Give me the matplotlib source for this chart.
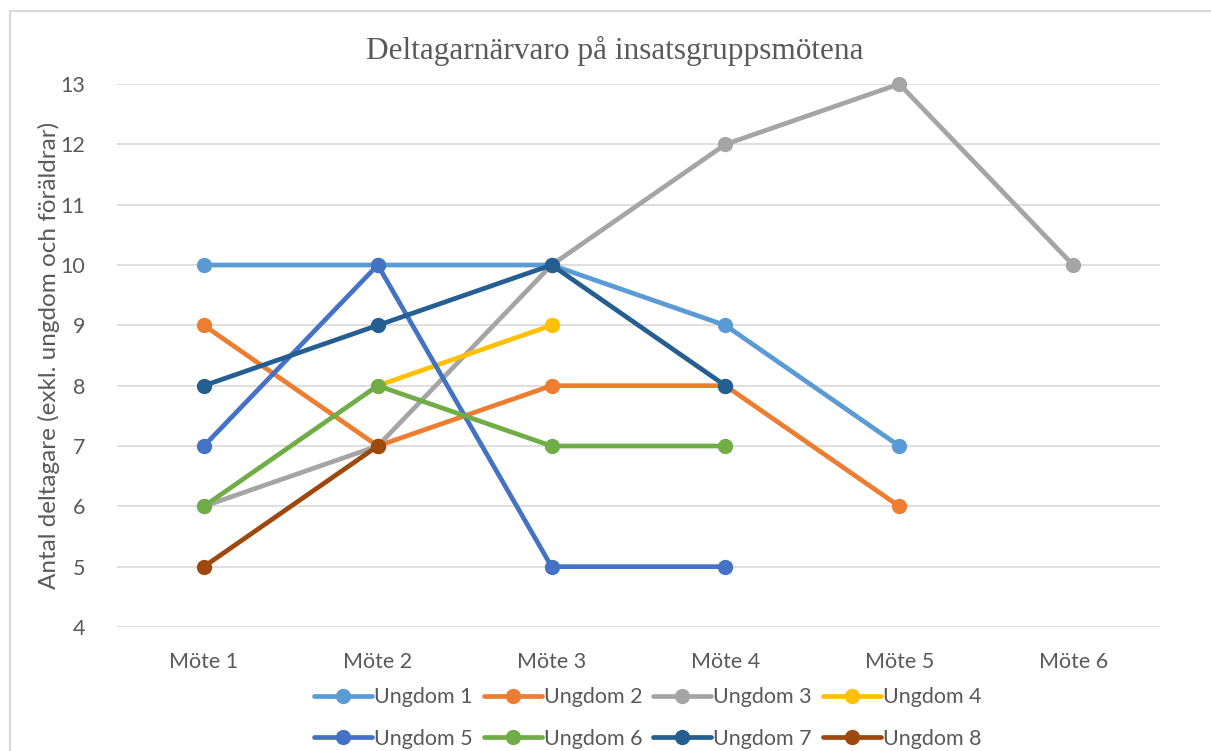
import numpy as np
import matplotlib
matplotlib.use("Agg")
from matplotlib import pyplot as plt
from matplotlib.patches import Rectangle

moten = ["Möte 1", "Möte 2", "Möte 3", "Möte 4", "Möte 5", "Möte 6"]
nan = np.nan
ungdom_1 = [10, 10, 10, 9, 7, nan]
ungdom_2 = [9, 7, 8, 8, 6, nan]
ungdom_3 = [6, 7, 10, 12, 13, 10]
ungdom_4 = [nan, 8, 9, nan, nan, nan]
ungdom_5 = [7, 10, 5, 5, nan, nan]
ungdom_6 = [6, 8, 7, 7, nan, nan]
ungdom_7 = [8, 9, 10, 8, nan, nan]
ungdom_8 = [5, 7, nan, nan, nan, nan]

series = [ungdom_1, ungdom_2, ungdom_3, ungdom_4,
          ungdom_5, ungdom_6, ungdom_7, ungdom_8]
labels = ["Ungdom %d" % i for i in range(1, 9)]
colors = ["#5B9BD5", "#ED7D31", "#A5A5A5", "#FFC000",
          "#4472C4", "#70AD47", "#255E91", "#9E480E"]

text_color = "#595959"
plt.rcParams['font.family'] = ['Lato', 'DejaVu Sans']

fig = plt.figure(figsize=(12.11, 7.51), dpi=100)
ax = fig.add_axes([117 / 1211, 1 - 627 / 751, (1160 - 117) / 1211, (627 - 84) / 751])

x = np.arange(len(moten))
handles = []
for vals, lab, col in zip(series, labels, colors):
    h, = ax.plot(x, vals, color=col, lw=3.4, marker='o', markersize=10,
                 label=lab, clip_on=False, solid_capstyle='round')
    handles.append(h)

ax.set_xlim(-0.5, 5.5)
ax.set_ylim(4, 13)
ax.set_yticks(range(4, 14))
ax.set_xticks(x)
ax.set_xticklabels(moten)
ax.tick_params(length=0, labelsize=15.5, labelcolor=text_color)
ax.tick_params(axis='x', pad=18)
ax.tick_params(axis='y', pad=23)
ax.grid(axis='y', color='#D9D9D9', lw=1.2)
ax.set_axisbelow(True)
for s in ax.spines.values():
    s.set_visible(False)

ax.set_ylabel("Antal deltagare (exkl. ungdom och föräldrar)", fontsize=17.5,
              color=text_color, labelpad=0)
fig.text(0.508, 1 - 51 / 751, "Deltagarnärvaro på insatsgruppsmötena",
         family='Liberation Serif', fontsize=22.5, color=text_color,
         ha='center', va='center')

# legend filled row by row like the original
order = [0, 4, 1, 5, 2, 6, 3, 7]
fig.legend([handles[i] for i in order], [labels[i] for i in order],
           ncol=4, loc='center', bbox_to_anchor=(0.535, 1 - 718 / 751),
           frameon=False, fontsize=15.5, labelcolor=text_color,
           handlelength=2.7, handletextpad=0.1, columnspacing=0.5,
           labelspacing=1.0, borderaxespad=0)

fig.add_artist(Rectangle((10 / 1211, -0.5), 2, 0.5 + 1 - 11 / 751,
                         transform=fig.transFigure, fill=False,
                         edgecolor='#D9D9D9', lw=1.5))

fig.savefig("out.png", dpi=100)
